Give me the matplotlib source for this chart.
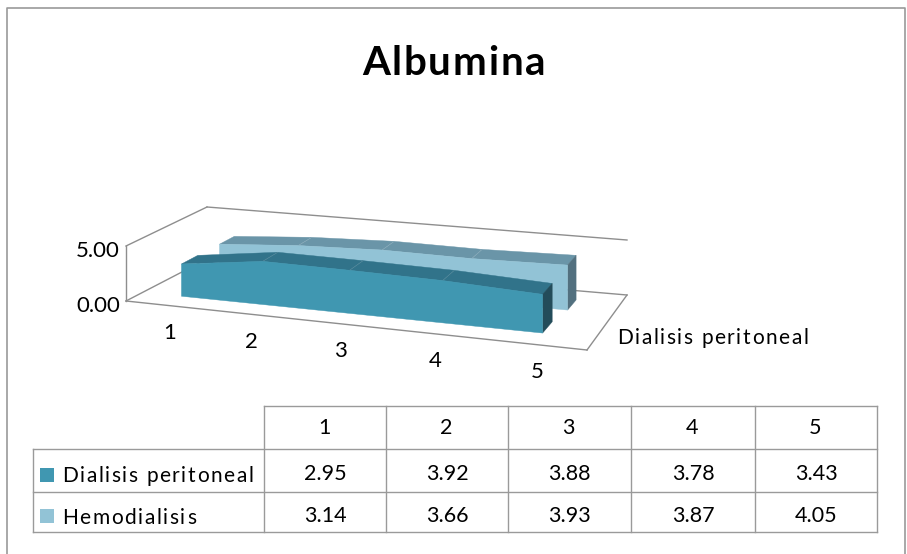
import matplotlib
matplotlib.use('Agg')
from matplotlib import pyplot as plt
from matplotlib.textpath import TextPath
from matplotlib.font_manager import FontProperties
import numpy as np

plt.rcParams['font.family'] = ['Lato', 'DejaVu Sans']

categories = ['1', '2', '3', '4', '5']
peritoneal = [2.95, 3.92, 3.88, 3.78, 3.43]
hemodialisis = [3.14, 3.66, 3.93, 3.87, 4.05]
series_names = ['Dialisis peritoneal', 'Hemodialisis']
value_labels = ['0.00', '5.00']
value_ticks = [0, 5]

# colours: front, top, end, seam
front_cols = ('#4097B1', '#31738A', '#234C5A', '#5E8FA0')
back_cols = ('#92C3D6', '#6A95A8', '#52707F', '#8FB0BE')

# floor corners of the 3d box, in pixels: front-left, front-right, back-right, back-left
floor = np.array([[126, 301], [587, 350], [627, 295], [207, 259]], float)
# height of 5 units on the four floor corners
wall = np.array([55, 57, 55, 52], float)


def solve_homography(pts):
    A = []
    b = []
    for (u, v), (x, y) in zip([(0, 0), (1, 0), (1, 1), (0, 1)], pts):
        A.append([u, v, 1, 0, 0, 0, -u * x, -v * x])
        A.append([0, 0, 0, u, v, 1, -u * y, -v * y])
        b += [x, y]
    return np.append(np.linalg.solve(np.array(A), np.array(b)), 1).reshape(3, 3)


H = solve_homography(floor)


def project(u, v, val=0.0):
    p = H @ np.array([u, v, 1.0])
    x, y = p[0] / p[2], p[1] / p[2]
    h = (wall[0] * (1 - u) * (1 - v) + wall[1] * u * (1 - v)
         + wall[2] * u * v + wall[3] * (1 - u) * v)
    return x, y - val / 5.0 * h


def ribbon(ax, values, v0, v1, cols, z, du=0.0):
    us = [(i + 0.5) / len(values) + du for i in range(len(values))]
    # top strip, one segment per category gap
    for i in range(len(values) - 1):
        quad = [project(us[i], v0, values[i]), project(us[i + 1], v0, values[i + 1]),
                project(us[i + 1], v1, values[i + 1]), project(us[i], v1, values[i])]
        ax.fill(*zip(*quad), color=cols[1], lw=0.3, zorder=z)
    for i in range(1, len(values) - 1):
        a, b = project(us[i], v0, values[i]), project(us[i], v1, values[i])
        ax.plot([a[0], b[0]], [a[1], b[1]], color=cols[3], lw=0.4, zorder=z + 0.1)
    # end cap on the right
    cap = [project(us[-1], v0, 0), project(us[-1], v1, 0),
           project(us[-1], v1, values[-1]), project(us[-1], v0, values[-1])]
    ax.fill(*zip(*cap), color=cols[2], lw=0.3, zorder=z)
    # front face
    face = [project(u, v0, 0) for u in us]
    face += [project(u, v0, val) for u, val in zip(us[::-1], values[::-1])]
    ax.fill(*zip(*face), color=cols[0], lw=0.3, zorder=z + 0.2)


def spaced_text(ax, x, y, s, size, width, weight='normal'):
    # lay out one glyph at a time so the label fills the given pixel width
    fp = FontProperties(family='Lato', size=size, weight=weight)
    scale = 100 / 72
    bar = TextPath((0, 0), '|', prop=fp).get_extents().x1
    adv = [(TextPath((0, 0), s[:i] + '|', prop=fp).get_extents().x1 - bar) * scale
           for i in range(len(s) + 1)]
    extra = (width - adv[-1]) / (len(s) - 1)
    for i, ch in enumerate(s):
        ax.text(x + adv[i] + extra * i, y, ch, fontsize=size, fontweight=weight,
                ha='left', va='baseline')


fig = plt.figure(figsize=(9.07, 5.54), dpi=100)
ax = fig.add_axes([0, 0, 1, 1])
ax.set_xlim(0, 907)
ax.set_ylim(554, 0)
ax.axis('off')

# outer border, open at the bottom
ax.plot([7, 7, 905, 905], [554, 8, 8, 554], color='#9A9A9A', lw=1.2)

spaced_text(ax, 362, 75, 'Albumina', 29, 183, weight='bold')

# box edges
grid = '#8E8E8E'
edges = [[(0, 0, 0), (1, 0, 0)], [(1, 0, 0), (1, 1, 0)], [(1, 1, 0), (0, 1, 0)],
         [(0, 1, 0), (0, 0, 0)], [(0, 0, 0), (0, 0, 5)], [(0, 0, 5), (0, 1, 5)],
         [(0, 1, 5), (1, 1, 5)]]
for a, b in edges:
    pa, pb = project(*a), project(*b)
    ax.plot([pa[0], pb[0]], [pa[1], pb[1]], color=grid, lw=1, zorder=1)

ribbon(ax, hemodialisis, 0.62, 0.82, back_cols, 3, du=0.01)
ribbon(ax, peritoneal, 0.19, 0.39, front_cols, 4)

# axis labels
for val, lab in zip(value_ticks, value_labels):
    x, y = project(0, 0, val)
    ax.text(120, y + 5, lab, fontsize=16, ha='right', va='center')
for i, lab in enumerate(categories):
    x, y = project((i + 0.5) / 5, 0)
    ax.text(x + 4, y + 28, lab, fontsize=16, ha='center', va='center')
spaced_text(ax, 617, 344, series_names[0], 15, 191)

# data table below the plot
col_x = [33, 264, 386, 508, 631, 755, 877]
row_y = [406, 449, 492, 532]
line = '#9A9A9A'
ax.plot([col_x[1], col_x[-1]], [row_y[0]] * 2, color=line, lw=1)
for y in row_y[1:]:
    ax.plot([col_x[0], col_x[-1]], [y, y], color=line, lw=1)
ax.plot([col_x[0]] * 2, [row_y[1], row_y[-1]], color=line, lw=1)
for x in col_x[1:]:
    ax.plot([x, x], [row_y[0], row_y[-1]], color=line, lw=1)

for i, lab in enumerate(categories):
    cx = (col_x[i + 1] + col_x[i + 2]) / 2
    ax.text(cx - 1, 428, lab, fontsize=15.5, ha='center', va='center')
    for j, vals in enumerate([peritoneal, hemodialisis]):
        ym = (row_y[j + 1] + row_y[j + 2]) / 2
        ax.text(cx, ym + 4, f'{vals[i]:.2f}', fontsize=15.5, ha='center', va='center')

label_widths = [191, 134]
for j, (name, col) in enumerate(zip(series_names, [front_cols[0], back_cols[0]])):
    ym = (row_y[j + 1] + row_y[j + 2]) / 2
    ax.fill([40, 54, 54, 40], [ym - 3, ym - 3, ym + 11, ym + 11], color=col, lw=0)
    spaced_text(ax, 62, ym + 12, name, 15, label_widths[j])

fig.savefig('out.png', dpi=100)
